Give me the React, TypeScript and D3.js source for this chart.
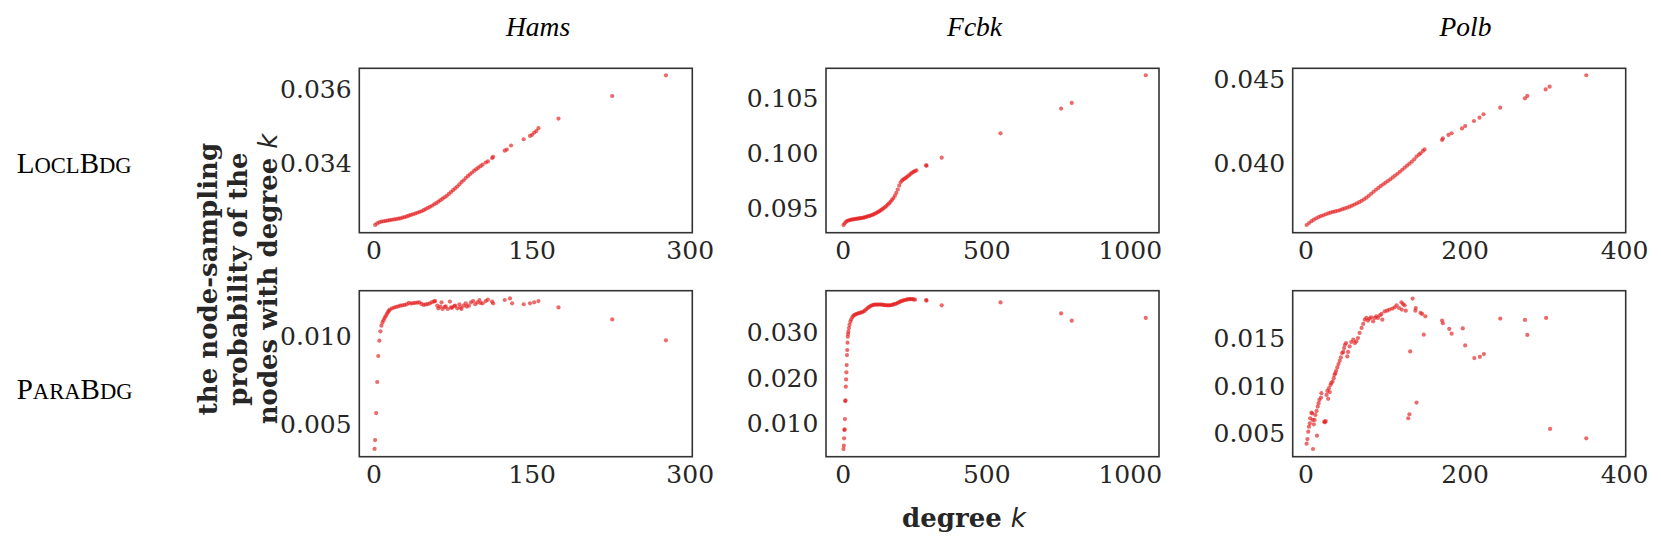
import React from 'react';
import * as d3 from 'd3';

const W = 1661;
const H = 543;

const datasets = ['Hams', 'Fcbk', 'Polb'];
const methods = ['LoclBdg', 'ParaBdg'];

// x limits and ticks per dataset (column)
const xDomains: [number, number][] = [[-14, 302], [-60, 1100], [-16.5, 401.5]];
const xTicks: number[][] = [[0, 150, 300], [0, 500, 1000], [0, 200, 400]];

// y limits and ticks per panel [row][col]
const yDomains: [number, number][][] = [
  [[0.03212, 0.03657], [0.0928, 0.10765], [0.035873, 0.045655]],
  [[0.003151, 0.012547], [0.00273, 0.03895], [0.0025, 0.01998]],
];
const yTicks: number[][][] = [
  [[0.034, 0.036], [0.095, 0.1, 0.105], [0.04, 0.045]],
  [[0.005, 0.01], [0.01, 0.02, 0.03], [0.005, 0.01, 0.015]],
];

const hamsLocl: [number, number][] = [
  [1, 0.03233], [3, 0.03237], [5, 0.0324], [7, 0.03242], [9, 0.03243], [11, 0.03244], [13, 0.03245],
  [15, 0.03246], [17, 0.03247], [19, 0.03248], [21, 0.03249], [23, 0.0325], [25, 0.03251], [27, 0.03253],
  [29, 0.03254], [31, 0.03256], [33, 0.03258], [35, 0.0326], [37, 0.03262], [39, 0.03264], [41, 0.03266],
  [43, 0.03268], [45, 0.0327], [47, 0.03273], [49, 0.03276], [51, 0.03279], [53, 0.03282], [55, 0.03285],
  [57, 0.03289], [59, 0.03292], [61, 0.03296], [63, 0.033], [65, 0.03304], [67, 0.03308], [69, 0.03312],
  [71, 0.03317], [73, 0.03322], [75, 0.03327], [77, 0.03332], [79, 0.03337], [81, 0.03343], [83, 0.03349],
  [85, 0.03354], [87, 0.0336], [89, 0.03365], [91, 0.0337], [93, 0.03375], [95, 0.0338], [97, 0.03384],
  [99, 0.03388], [101, 0.03392], [103, 0.03396], [106, 0.03402], [108, 0.03405], [112, 0.03414],
  [113, 0.03417], [124, 0.03434], [126, 0.03437], [130, 0.03448], [142, 0.03465], [148, 0.03474],
  [150, 0.03477], [152, 0.03483], [154, 0.03487], [156, 0.03495], [175, 0.03521], [226, 0.03582],
  [277, 0.03638],
];

const hamsPara: [number, number][] = [
  [0.5, 0.00359], [1, 0.00409], [2, 0.00562], [3, 0.00738], [4, 0.00885], [5, 0.00972], [6, 0.01025],
  [7, 0.01057], [8, 0.01075], [9, 0.01088], [10, 0.011], [11, 0.0111], [12, 0.01121], [13, 0.01132],
  [14, 0.0114], [15, 0.01148], [17, 0.01155], [19, 0.01159], [21, 0.01163], [23, 0.01166], [25, 0.0117],
  [27, 0.01172], [29, 0.01175], [31, 0.01177], [33, 0.01186], [35, 0.01182], [37, 0.01184], [39, 0.01186],
  [41, 0.01187], [43, 0.01189], [45, 0.0118], [47, 0.01174], [49, 0.01177], [51, 0.01179], [53, 0.01183],
  [55, 0.0119], [57, 0.01194], [58, 0.01196], [60, 0.0117], [61, 0.01155], [63, 0.01165], [64, 0.01189],
  [65, 0.01151], [67, 0.01162], [68, 0.01166], [70, 0.01151], [72, 0.01193], [73, 0.0116], [74, 0.01158],
  [76, 0.01168], [77, 0.0117], [79, 0.01155], [81, 0.01178], [82, 0.0116], [83, 0.01151], [85, 0.0117],
  [87, 0.01183], [88, 0.01165], [90, 0.0117], [92, 0.01189], [94, 0.01196], [96, 0.01178], [98, 0.01189],
  [100, 0.01202], [101, 0.01185], [103, 0.01183], [106, 0.01196], [108, 0.01204], [112, 0.01193],
  [113, 0.01183], [124, 0.01202], [129, 0.01211], [131, 0.01183], [142, 0.01178], [148, 0.01183],
  [152, 0.01189], [156, 0.01196], [175, 0.0116], [226, 0.01092], [277, 0.00974],
];

const fcbkLocl: [number, number][] = [
  [1, 0.09349], [5, 0.09365], [10, 0.0938], [15, 0.09388], [20, 0.09392], [25, 0.09396], [30, 0.09399],
  [35, 0.09401], [40, 0.09403], [45, 0.09405], [50, 0.09407], [55, 0.09409], [60, 0.09411], [65, 0.09413],
  [70, 0.09416], [75, 0.09419], [80, 0.09423], [85, 0.09427], [90, 0.09431], [95, 0.09435], [100, 0.0944],
  [105, 0.09445], [110, 0.09451], [115, 0.09458], [120, 0.09465], [125, 0.09473], [130, 0.09481],
  [135, 0.0949], [140, 0.095], [145, 0.0951], [150, 0.09521], [155, 0.09533], [160, 0.09546],
  [165, 0.0956], [170, 0.09576], [175, 0.09593], [180, 0.09614], [185, 0.0964], [190, 0.0967],
  [195, 0.09705], [200, 0.09735], [205, 0.09752], [210, 0.09762], [215, 0.0977], [220, 0.09779],
  [225, 0.0979], [230, 0.09801], [235, 0.09812], [240, 0.09822], [245, 0.0983], [250, 0.09837],
  [255, 0.09843], [289, 0.09889], [290, 0.09885], [343, 0.09958], [548, 0.10178], [759, 0.10401],
  [796, 0.10452], [1054, 0.10702],
];

const fcbkPara: [number, number][] = [
  [1, 0.0044], [2, 0.00513], [3, 0.00673], [4, 0.00855], [5, 0.0087], [6, 0.01094], [7, 0.01487],
  [8, 0.015], [9, 0.018], [10, 0.0196], [11, 0.02113], [12, 0.02273], [13, 0.0249], [14, 0.026],
  [15, 0.0276], [16, 0.0289], [17, 0.0295], [18, 0.03], [20, 0.0308], [22, 0.0315], [25, 0.0322],
  [28, 0.0327], [32, 0.0332], [36, 0.0335], [40, 0.0337], [45, 0.03385], [50, 0.03395], [55, 0.03405],
  [60, 0.03415], [65, 0.03425], [70, 0.0344], [75, 0.0346], [80, 0.0349], [85, 0.03515], [90, 0.0354],
  [95, 0.0356], [100, 0.03575], [105, 0.03585], [110, 0.0359], [115, 0.03592], [120, 0.03593],
  [125, 0.03594], [130, 0.03594], [135, 0.0359], [140, 0.03585], [145, 0.0358], [150, 0.03577],
  [155, 0.03575], [160, 0.03575], [165, 0.03578], [170, 0.03585], [175, 0.03595], [180, 0.03605],
  [185, 0.03615], [190, 0.0363], [195, 0.03645], [200, 0.0366], [205, 0.03672], [210, 0.03684],
  [215, 0.03692], [220, 0.037], [225, 0.03706], [230, 0.03711], [235, 0.03713], [240, 0.03712],
  [245, 0.03705], [250, 0.037], [289, 0.0369], [290, 0.0368], [343, 0.03575], [548, 0.0364],
  [759, 0.034], [796, 0.0324], [1054, 0.033],
];

const polbLocl: [number, number][] = [
  [1, 0.03633], [4, 0.03645], [7, 0.03656], [10, 0.03665], [13, 0.03673], [16, 0.0368], [19, 0.03686],
  [22, 0.03691], [25, 0.03697], [28, 0.03702], [31, 0.03707], [34, 0.03711], [37, 0.03714], [40, 0.03718],
  [43, 0.03722], [46, 0.03727], [49, 0.03732], [52, 0.03737], [55, 0.03742], [58, 0.03748], [61, 0.03755],
  [64, 0.03762], [67, 0.03769], [70, 0.03777], [73, 0.03786], [76, 0.03796], [79, 0.03807], [82, 0.03819],
  [85, 0.03831], [88, 0.03843], [91, 0.03854], [94, 0.03865], [97, 0.03875], [100, 0.03885],
  [103, 0.03895], [106, 0.03905], [109, 0.03916], [112, 0.03927], [115, 0.03938], [118, 0.0395],
  [121, 0.03962], [124, 0.03974], [127, 0.03986], [130, 0.03998], [133, 0.0401], [136, 0.04024],
  [139, 0.0404], [142, 0.04052], [144, 0.0406], [147, 0.04074], [149, 0.04083], [171, 0.04139],
  [172, 0.04148], [179, 0.04169], [183, 0.04179], [196, 0.04208], [200, 0.04222], [211, 0.04252],
  [218, 0.04272], [223, 0.04292], [244, 0.04331], [275, 0.04387], [278, 0.04401], [301, 0.0444],
  [306, 0.04456], [352, 0.04524],
];

const polbPara: [number, number][] = [
  [1, 0.00387], [2, 0.00436], [3, 0.00513], [4, 0.00566], [5, 0.00602], [5.5, 0.00655], [7, 0.00714],
  [8, 0.00705], [8.5, 0.00637], [9, 0.00331], [10, 0.00591], [11, 0.00637], [12, 0.0069], [13.5, 0.00732],
  [14, 0.00471], [15, 0.00778], [16, 0.00813], [17, 0.00848], [19, 0.00873], [19.5, 0.00919],
  [23, 0.00619], [24, 0.00612], [25, 0.00625], [26, 0.00901], [27, 0.00943], [28, 0.00859], [29, 0.00972],
  [30, 0.0093], [31, 0.01007], [32, 0.01025], [33.5, 0.01042], [35, 0.01077], [36, 0.01112], [37, 0.0113],
  [38, 0.01155], [39.5, 0.0119], [41, 0.01225], [42.5, 0.0126], [44, 0.01295], [45.5, 0.01341],
  [47, 0.01353], [48, 0.01394], [49, 0.01429], [50.5, 0.01447], [52, 0.01306], [53, 0.01353],
  [55, 0.01411], [57, 0.01458], [59.5, 0.01482], [61.5, 0.01447], [63.5, 0.01465], [65.5, 0.015],
  [67.5, 0.01553], [70, 0.01606], [72, 0.01648], [74, 0.01693], [76, 0.01711], [78, 0.01683],
  [80, 0.01704], [82, 0.01718], [84.5, 0.01675], [86.5, 0.01711], [88.5, 0.01728], [90.5, 0.01711],
  [93, 0.01739], [95, 0.01753], [96, 0.01693], [99, 0.01781], [102, 0.01788], [105, 0.01799],
  [108.5, 0.0181], [111.5, 0.01823], [114, 0.01844], [117, 0.01816], [120, 0.01876], [120.5, 0.01799],
  [122, 0.01858], [124, 0.01844], [125.5, 0.01788], [128.5, 0.00655], [130, 0.00697], [131, 0.01359],
  [134, 0.01915], [137.5, 0.01788], [138, 0.01816], [139, 0.0082], [144, 0.01764], [146, 0.01753],
  [148, 0.01535], [150, 0.01728], [171, 0.01683], [172, 0.01655], [180, 0.01595], [183, 0.01545],
  [197, 0.01601], [200, 0.01422], [211.5, 0.01289], [218.5, 0.01302], [223.5, 0.01331], [244, 0.01704],
  [275, 0.0169], [278, 0.01532], [301.6, 0.01711], [306.6, 0.00542], [352, 0.00444],
];

const panelData: [number, number][][][] = [
  [hamsLocl, fcbkLocl, polbLocl],
  [hamsPara, fcbkPara, polbPara],
];

// layout
const colLeft = [359.3, 826, 1292.7];
const colWidth = 333;
const rowTop = [68.3, 290.7];
const rowBottom = [232.7, 456.7];
const titleX = [538, 974.6, 1465.5];
const rowLabelY = [173, 399];

const TICK_FONT = 'DejaVu Serif';
const TIMES = 'Liberation Serif, Times New Roman, serif';
const DOT = '#e41a1c';
const LABEL_SIZE = 26;

function Panel({ r, c }: { r: number; c: number }) {
  const x = d3.scaleLinear().domain(xDomains[c]).range([colLeft[c], colLeft[c] + colWidth]);
  const y = d3.scaleLinear().domain(yDomains[r][c]).range([rowBottom[r], rowTop[r]]);
  const fmt = d3.format('.3f');
  return (
    <g>
      <g>
        {panelData[r][c].map((d, i) => (
          <circle key={i} cx={x(d[0])} cy={y(d[1])} r={2.1} fill={DOT} fillOpacity={0.65} />
        ))}
      </g>
      <rect
        x={colLeft[c]}
        y={rowTop[r]}
        width={colWidth}
        height={rowBottom[r] - rowTop[r]}
        fill="none"
        stroke="#333"
        strokeWidth={1.6}
      />
      {xTicks[c].map((t) => (
        <text key={'x' + t} x={x(t)} y={rowBottom[r] + 25.8} textAnchor="middle"
          fontFamily={TICK_FONT} fontSize={25} fill="#262626">{t}</text>
      ))}
      {yTicks[r][c].map((t) => (
        <text key={'y' + t} x={colLeft[c] - 7.6} y={y(t) + 9.1} textAnchor="end"
          fontFamily={TICK_FONT} fontSize={25} fill="#262626">{fmt(t)}</text>
      ))}
    </g>
  );
}

// Small-caps rendering: capital letters at full size, lowercase as reduced capitals
function SmallCaps({ text, x, y, size }: { text: string; x: number; y: number; size: number }) {
  return (
    <text x={x} y={y} fontFamily={TIMES} fontSize={size} fill="#000">
      {text.split('').map((ch, i) =>
        ch === ch.toUpperCase() ? (
          <tspan key={i}>{ch}</tspan>
        ) : (
          <tspan key={i} fontSize={size * 0.78}>{ch.toUpperCase()}</tspan>
        )
      )}
    </text>
  );
}

const yLabelLines = ['the node-sampling', 'probability of the', 'nodes with degree '];

export default function App() {
  return (
    <svg width={W} height={H} style={{ position: 'absolute', left: 0, top: 0, background: '#fff' }}>
      <rect x={0} y={0} width={W} height={H} fill="#fff" />
      {datasets.map((name, c) => (
        <text key={name} x={titleX[c]} y={36} textAnchor="middle" fontFamily={TIMES}
          fontStyle="italic" fontSize={27.5} fill="#000">{name}</text>
      ))}
      {methods.map((m, r) => (
        <SmallCaps key={m} text={m} x={16.7} y={rowLabelY[r]} size={29} />
      ))}
      {[0, 1].map((r) => [0, 1, 2].map((c) => <Panel key={r + '-' + c} r={r} c={c} />))}
      {yLabelLines.map((line, i) => (
        <text key={i} transform={`translate(${217 + i * 30},279) rotate(-90)`} textAnchor="middle"
          fontFamily={TICK_FONT} fontWeight="bold" fontSize={LABEL_SIZE} fill="#262626">
          {line}
          {i === 2 ? (
            <tspan fontFamily="DejaVu Sans" fontStyle="italic" fontWeight="normal">k</tspan>
          ) : null}
        </text>
      ))}
      <text x={964} y={526.7} textAnchor="middle" fontFamily={TICK_FONT} fontWeight="bold"
        fontSize={LABEL_SIZE} fill="#262626">
        degree <tspan fontFamily="DejaVu Sans" fontStyle="italic" fontWeight="normal">k</tspan>
      </text>
    </svg>
  );
}
